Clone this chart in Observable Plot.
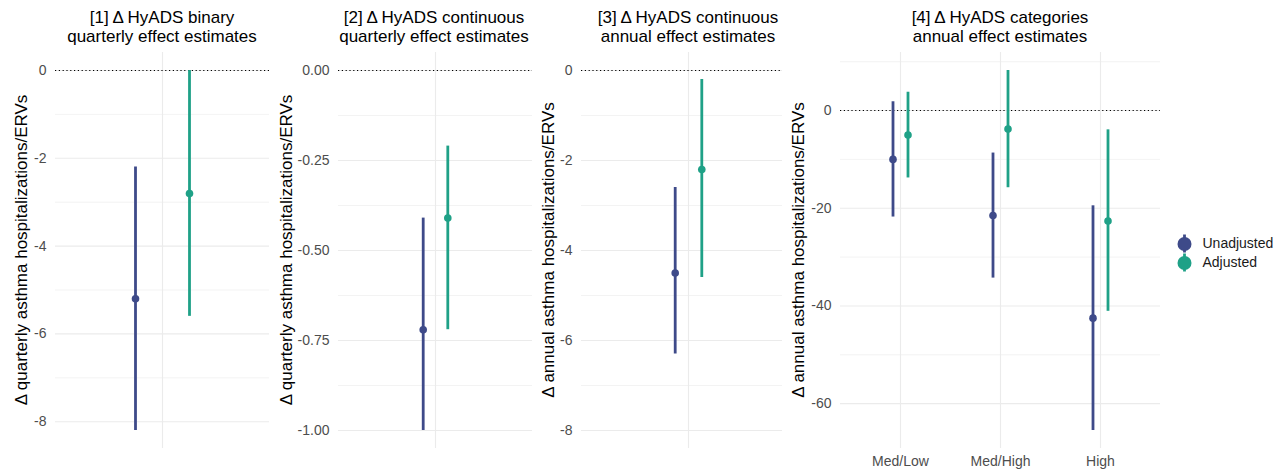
<!DOCTYPE html>
<html><head><meta charset="utf-8">
<script src="https://cdn.jsdelivr.net/npm/d3@7"></script>
<script src="https://cdn.jsdelivr.net/npm/@observablehq/plot@0.6"></script>
<style>
body{margin:0;background:#fff;font-family:"Liberation Sans",Arial,Helvetica,sans-serif;}
#chart{position:relative;width:1284px;height:470px;overflow:hidden;background:#fff;}
.ttl{position:absolute;width:320px;height:17px;text-align:center;font-size:17px;line-height:17px;color:#000;white-space:nowrap;}
.ytl{position:absolute;white-space:nowrap;font-size:17px;line-height:1;color:#000;transform:translate(-50%,-50%) rotate(-90deg);}
.pnl{position:absolute;}
</style></head><body><div id="chart"></div>
<script>
// ---------- data ----------
const series = ["Unadjusted", "Adjusted"];
const seriesColors = ["#3E4A89", "#1FA187"];

// Panel 1
const p1Title = ["[1] Δ HyADS binary", "quarterly effect estimates"];
const p1YLabel = "Δ quarterly asthma hospitalizations/ERVs";
const p1Categories = [""];
const p1UnadjEst = [-5.2], p1UnadjLo = [-8.2], p1UnadjHi = [-2.2];
const p1AdjEst = [-2.8], p1AdjLo = [-5.6], p1AdjHi = [0.0];
const p1Ticks = [0, -2, -4, -6, -8];
const p1MinorTicks = [-1, -3, -5, -7];
const p1Limits = [-8.2, 0];

// Panel 2
const p2Title = ["[2] Δ HyADS continuous", "quarterly effect estimates"];
const p2YLabel = "Δ quarterly asthma hospitalizations/ERVs";
const p2Categories = [""];
const p2UnadjEst = [-0.72], p2UnadjLo = [-1.00], p2UnadjHi = [-0.41];
const p2AdjEst = [-0.41], p2AdjLo = [-0.72], p2AdjHi = [-0.21];
const p2Ticks = [0, -0.25, -0.5, -0.75, -1];
const p2MinorTicks = [-0.125, -0.375, -0.625, -0.875];
const p2Limits = [-1, 0];

// Panel 3
const p3Title = ["[3] Δ HyADS continuous", "annual effect estimates"];
const p3YLabel = "Δ annual asthma hospitalizations/ERVs";
const p3Categories = [""];
const p3UnadjEst = [-4.5], p3UnadjLo = [-6.3], p3UnadjHi = [-2.6];
const p3AdjEst = [-2.2], p3AdjLo = [-4.6], p3AdjHi = [-0.2];
const p3Ticks = [0, -2, -4, -6, -8];
const p3MinorTicks = [-1, -3, -5, -7];
const p3Limits = [-8, 0];

// Panel 4
const p4Title = ["[4] Δ HyADS categories", "annual effect estimates"];
const p4YLabel = "Δ annual asthma hospitalizations/ERVs";
const p4Categories = ["Med/Low", "Med/High", "High"];
const p4UnadjEst = [-10.0, -21.5, -42.5], p4UnadjLo = [-21.8, -34.3, -65.5], p4UnadjHi = [1.8, -8.7, -19.5];
const p4AdjEst = [-5.0, -3.8, -22.6], p4AdjLo = [-13.8, -15.8, -41.1], p4AdjHi = [3.75, 8.2, -3.95];
const p4Ticks = [0, -20, -40, -60];
const p4MinorTicks = [10, -10, -30, -50];
const p4Limits = [-65.5, 8.2];

// ---------- assembly ----------
const fmtInt = d => String(d);
const fmt2 = d => d.toFixed(2);

const panels = [
  {title:p1Title, ylab:p1YLabel, cats:p1Categories, ue:p1UnadjEst, ul:p1UnadjLo, uh:p1UnadjHi, ae:p1AdjEst, al:p1AdjLo, ah:p1AdjHi, ticks:p1Ticks, minor:p1MinorTicks, limits:p1Limits, fmt:fmtInt, xaxis:false},
  {title:p2Title, ylab:p2YLabel, cats:p2Categories, ue:p2UnadjEst, ul:p2UnadjLo, uh:p2UnadjHi, ae:p2AdjEst, al:p2AdjLo, ah:p2AdjHi, ticks:p2Ticks, minor:p2MinorTicks, limits:p2Limits, fmt:fmt2, xaxis:false},
  {title:p3Title, ylab:p3YLabel, cats:p3Categories, ue:p3UnadjEst, ul:p3UnadjLo, uh:p3UnadjHi, ae:p3AdjEst, al:p3AdjLo, ah:p3AdjHi, ticks:p3Ticks, minor:p3MinorTicks, limits:p3Limits, fmt:fmtInt, xaxis:false},
  {title:p4Title, ylab:p4YLabel, cats:p4Categories, ue:p4UnadjEst, ul:p4UnadjLo, uh:p4UnadjHi, ae:p4AdjEst, al:p4AdjLo, ah:p4AdjHi, ticks:p4Ticks, minor:p4MinorTicks, limits:p4Limits, fmt:fmtInt, xaxis:true}
];

// layout (pixels)
const layouts = [
  {left:0,   width:275, ml:55, mr:6, dodge:27,   align:0.5,   titleX:162,  ylabX:21},
  {left:280, width:260, ml:58, mr:8, dodge:12.3, align:0.5,   titleX:434,  ylabX:286},
  {left:540, width:250, ml:41, mr:8, dodge:13.3, align:0.532, titleX:688,  ylabX:547.5},
  {left:785, width:380, ml:55, mr:5, dodge:7.5,  align:0.5,   titleX:1000, ylabX:797.5}
];
const SVG_TOP = 40, SVG_H = 430, MT = 12, MB = 22;
const TITLE_TOPS = [8.5, 27.7];

const chart = document.getElementById("chart");
const fontFamily = '"Liberation Sans", Arial, Helvetica, sans-serif';

panels.forEach((p, pi) => {
  const L = layouts[pi];
  const rows = [];
  p.cats.forEach((c, i) => {
    rows.push({cat:c, series:series[0], est:p.ue[i], lo:p.ul[i], hi:p.uh[i]});
    rows.push({cat:c, series:series[1], est:p.ae[i], lo:p.al[i], hi:p.ah[i]});
  });
  const [a, b] = p.limits;
  const pad = (b - a) * 0.05;
  const marks = [
    Plot.ruleY(p.minor, {stroke:"#EBEBEB", strokeWidth:0.6}),
    Plot.ruleY(p.ticks, {stroke:"#EBEBEB", strokeWidth:1.1}),
    Plot.ruleX(p.cats, {x: d => d, stroke:"#EBEBEB", strokeWidth:1.1}),
    Plot.ruleY([0], {stroke:"#000", strokeWidth:1.1, strokeDasharray:"1.2,2.6"}),
    Plot.axisY({ticks:p.ticks, tickSize:0, tickPadding:9, tickFormat:p.fmt, color:"#4D4D4D", fontSize:14, label:null})
  ];
  series.forEach((s, k) => {
    const sub = rows.filter(d => d.series === s);
    const dx = (k === 0 ? -1 : 1) * L.dodge;
    marks.push(Plot.ruleX(sub, {x:"cat", y1:"lo", y2:"hi", stroke:seriesColors[k], strokeWidth:2.8, dx}));
    marks.push(Plot.dot(sub, {x:"cat", y:"est", r:3.8, fill:seriesColors[k], stroke:"none", dx}));
  });
  const xOpts = {type:"point", domain:p.cats, padding:0.6, align:L.align};
  if (p.xaxis) {
    marks.push(Plot.axisX({tickSize:0, tickPadding:8, color:"#4D4D4D", fontSize:14, label:null}));
  } else {
    xOpts.axis = null;
  }
  const svg = Plot.plot({
    width:L.width, height:SVG_H,
    marginLeft:L.ml, marginRight:L.mr, marginTop:MT, marginBottom:MB,
    x:xOpts,
    y:{domain:[a - pad, b + pad], label:null},
    style:{fontFamily, fontSize:"14px", background:"white", overflow:"visible"},
    marks
  });
  const wrap = document.createElement("div");
  wrap.className = "pnl";
  wrap.style.left = L.left + "px";
  wrap.style.top = SVG_TOP + "px";
  wrap.style.width = L.width + "px";
  wrap.appendChild(svg);
  chart.appendChild(wrap);

  p.title.forEach((line, li) => {
    const t = document.createElement("div");
    t.className = "ttl";
    t.style.left = (L.titleX - 160) + "px";
    t.style.top = TITLE_TOPS[li] + "px";
    t.textContent = line;
    chart.appendChild(t);
  });

  const yl = document.createElement("div");
  yl.className = "ytl";
  yl.style.left = L.ylabX + "px";
  yl.style.top = (SVG_TOP + MT + (SVG_H - MT - MB) / 2) + "px";
  yl.textContent = p.ylab;
  chart.appendChild(yl);
});

// legend
const legendRows = series.map((s, i) => ({s, c: seriesColors[i]}));
const leg = Plot.plot({
  width:119, height:60, margin:0,
  x:{type:"linear", domain:[0, 1], range:[19, 100], axis:null},
  y:{type:"band", domain:series, range:[13.5, 51.5], padding:0, axis:null},
  style:{fontFamily, fontSize:"14px", background:"transparent", overflow:"visible"},
  marks:[
    Plot.tickX(legendRows, {x: () => 0, y:"s", stroke: d => d.c, strokeWidth:2.8, insetTop:0.5, insetBottom:0.5}),
    Plot.dot(legendRows, {x: () => 0, y:"s", r:7, fill: d => d.c, stroke:"none"}),
    Plot.text(legendRows, {x: () => 0, y:"s", text:"s", dx:18, textAnchor:"start", fill:"#1a1a1a"})
  ]
});
const lw = document.createElement("div");
lw.className = "pnl";
lw.style.left = "1165px";
lw.style.top = "220px";
lw.style.width = "119px";
lw.appendChild(leg);
chart.appendChild(lw);
</script></body></html>
